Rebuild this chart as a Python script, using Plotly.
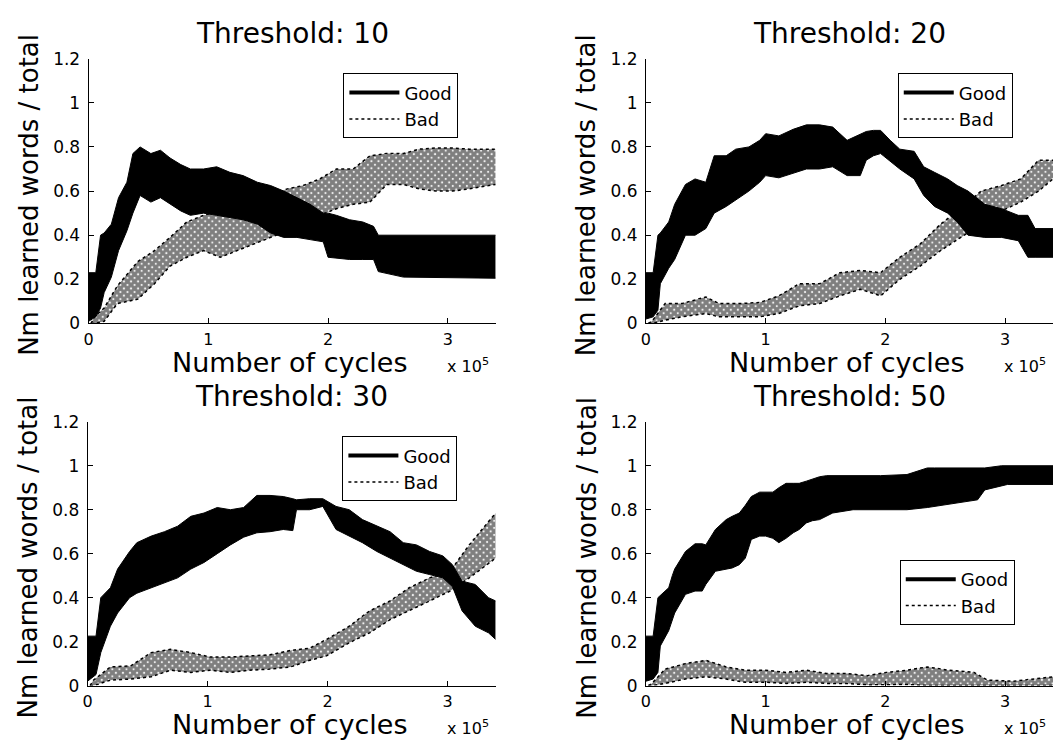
import plotly.graph_objects as go

# ---------------- data (x in units of 10^5 cycles) ----------------
thresholds = ["10", "20", "30", "50"]
x_ticks = [0, 1, 2, 3]
x_tick_labels = ["0", "1", "2", "3"]
y_ticks = [0, 0.2, 0.4, 0.6, 0.8, 1.0, 1.2]
y_tick_labels = ["0", "0.2", "0.4", "0.6", "0.8", "1", "1.2"]

# Threshold 10
t10_good_x = [0, 0.06, 0.10, 0.13, 0.19, 0.25, 0.32, 0.37, 0.43, 0.52, 0.60, 0.68, 0.77, 0.85, 0.96, 1.07,
              1.18, 1.29, 1.41, 1.52, 1.63, 1.74, 1.85, 1.96, 2.00, 2.07, 2.18, 2.29, 2.38, 2.42, 2.63, 3.40]
t10_good_hi = [0.23, 0.23, 0.40, 0.41, 0.45, 0.57, 0.64, 0.77, 0.80, 0.77, 0.785, 0.75, 0.72, 0.70, 0.70, 0.71,
               0.685, 0.67, 0.64, 0.625, 0.60, 0.57, 0.54, 0.50, 0.50, 0.49, 0.47, 0.46, 0.44, 0.40, 0.40, 0.40]
t10_good_lo = [0.01, 0.03, 0.07, 0.14, 0.21, 0.33, 0.42, 0.50, 0.58, 0.55, 0.57, 0.54, 0.51, 0.49, 0.50, 0.49,
               0.48, 0.47, 0.45, 0.41, 0.39, 0.39, 0.38, 0.37, 0.30, 0.295, 0.29, 0.29, 0.29, 0.235, 0.21, 0.205]
t10_bad_x = [0.02, 0.05, 0.13, 0.24, 0.41, 0.55, 0.68, 0.82, 0.96, 1.10, 1.24, 1.38, 1.52, 1.66, 1.79, 1.93,
             2.07, 2.21, 2.35, 2.49, 2.63, 2.76, 2.90, 3.04, 3.18, 3.40]
t10_bad_hi = [0.0, 0.03, 0.07, 0.17, 0.28, 0.33, 0.39, 0.46, 0.49, 0.51, 0.52, 0.54, 0.58, 0.61, 0.625, 0.655,
              0.70, 0.70, 0.76, 0.77, 0.77, 0.79, 0.795, 0.795, 0.79, 0.79]
t10_bad_lo = [0.0, 0.0, 0.01, 0.09, 0.11, 0.18, 0.26, 0.30, 0.33, 0.30, 0.33, 0.36, 0.39, 0.42, 0.46, 0.49,
              0.52, 0.54, 0.55, 0.63, 0.63, 0.61, 0.60, 0.60, 0.61, 0.63]

# Threshold 20
t20_good_x = [0, 0.06, 0.10, 0.12, 0.19, 0.24, 0.33, 0.41, 0.50, 0.57, 0.67, 0.75, 0.86, 0.95, 1.00, 1.11,
              1.23, 1.34, 1.45, 1.56, 1.68, 1.79, 1.84, 1.90, 1.96, 2.04, 2.12, 2.24, 2.32, 2.41, 2.52, 2.60,
              2.69, 2.83, 2.97, 3.11, 3.19, 3.25, 3.40]
t20_good_hi = [0.23, 0.23, 0.40, 0.41, 0.46, 0.54, 0.63, 0.655, 0.64, 0.76, 0.76, 0.79, 0.80, 0.83, 0.86, 0.85,
               0.88, 0.90, 0.90, 0.89, 0.83, 0.86, 0.87, 0.875, 0.875, 0.83, 0.79, 0.78, 0.71, 0.685, 0.655, 0.625,
               0.60, 0.54, 0.52, 0.49, 0.49, 0.43, 0.43]
t20_good_lo = [0.02, 0.03, 0.06, 0.18, 0.25, 0.29, 0.40, 0.40, 0.43, 0.50, 0.53, 0.56, 0.60, 0.64, 0.67, 0.66,
               0.68, 0.70, 0.70, 0.71, 0.67, 0.67, 0.74, 0.76, 0.77, 0.735, 0.70, 0.655, 0.58, 0.53, 0.50, 0.46,
               0.40, 0.39, 0.39, 0.375, 0.30, 0.30, 0.30]
t20_bad_x = [0.02, 0.05, 0.16, 0.30, 0.50, 0.61, 0.78, 0.95, 1.11, 1.28, 1.45, 1.62, 1.79, 1.96, 2.12, 2.29,
             2.46, 2.63, 2.80, 2.97, 3.13, 3.28, 3.40]
t20_bad_hi = [0.0, 0.01, 0.09, 0.09, 0.12, 0.09, 0.09, 0.095, 0.125, 0.18, 0.18, 0.23, 0.24, 0.23, 0.30, 0.36,
              0.45, 0.52, 0.60, 0.625, 0.655, 0.74, 0.74]
t20_bad_lo = [0.0, 0.0, 0.015, 0.03, 0.045, 0.03, 0.03, 0.03, 0.045, 0.08, 0.09, 0.125, 0.155, 0.125, 0.20, 0.26,
              0.33, 0.39, 0.45, 0.51, 0.55, 0.60, 0.655]

# Threshold 30
t30_good_x = [0, 0.07, 0.11, 0.19, 0.25, 0.35, 0.41, 0.53, 0.64, 0.75, 0.86, 0.97, 1.08, 1.19, 1.30, 1.41,
              1.52, 1.63, 1.71, 1.74, 1.85, 1.96, 2.07, 2.18, 2.29, 2.41, 2.52, 2.63, 2.74, 2.85, 2.96, 3.04,
              3.12, 3.23, 3.34, 3.40]
t30_good_hi = [0.225, 0.225, 0.40, 0.445, 0.53, 0.61, 0.65, 0.68, 0.70, 0.725, 0.77, 0.785, 0.81, 0.80, 0.81, 0.865,
               0.865, 0.86, 0.85, 0.845, 0.85, 0.85, 0.815, 0.80, 0.755, 0.725, 0.70, 0.65, 0.64, 0.61, 0.59, 0.55,
               0.475, 0.46, 0.40, 0.385]
t30_good_lo = [0.02, 0.05, 0.15, 0.27, 0.33, 0.40, 0.42, 0.445, 0.465, 0.49, 0.53, 0.56, 0.60, 0.64, 0.675, 0.695,
               0.70, 0.71, 0.705, 0.80, 0.80, 0.815, 0.71, 0.68, 0.65, 0.61, 0.58, 0.55, 0.52, 0.505, 0.49, 0.45,
               0.34, 0.27, 0.24, 0.21]
t30_bad_x = [0.02, 0.05, 0.19, 0.36, 0.53, 0.69, 0.86, 1.02, 1.19, 1.35, 1.52, 1.69, 1.85, 1.99, 2.18, 2.35,
             2.52, 2.68, 2.85, 3.02, 3.18, 3.40]
t30_bad_hi = [0.0, 0.025, 0.085, 0.09, 0.15, 0.165, 0.15, 0.13, 0.13, 0.135, 0.14, 0.16, 0.17, 0.21, 0.27, 0.34,
              0.385, 0.445, 0.49, 0.52, 0.64, 0.785]
t30_bad_lo = [0.0, 0.0, 0.025, 0.03, 0.04, 0.07, 0.06, 0.07, 0.06, 0.07, 0.075, 0.085, 0.115, 0.135, 0.195, 0.24,
              0.30, 0.34, 0.385, 0.43, 0.49, 0.58]

# Threshold 50
t50_good_x = [0, 0.06, 0.10, 0.12, 0.19, 0.22, 0.24, 0.33, 0.41, 0.47, 0.50, 0.58, 0.67, 0.72, 0.78, 0.83,
              0.88, 0.95, 1.00, 1.06, 1.11, 1.17, 1.23, 1.28, 1.34, 1.39, 1.45, 1.51, 1.56, 1.73, 1.96, 2.18,
              2.35, 2.41, 2.57, 2.77, 2.83, 2.97, 3.02, 3.40]
t50_good_hi = [0.225, 0.225, 0.40, 0.41, 0.445, 0.50, 0.53, 0.61, 0.645, 0.645, 0.64, 0.71, 0.755, 0.77, 0.785, 0.82,
               0.86, 0.88, 0.88, 0.88, 0.90, 0.92, 0.92, 0.92, 0.93, 0.94, 0.95, 0.955, 0.955, 0.955, 0.955, 0.96,
               0.99, 0.99, 0.99, 0.99, 0.99, 1.0, 1.0, 1.0]
t50_good_lo = [0.02, 0.03, 0.06, 0.18, 0.25, 0.30, 0.33, 0.415, 0.43, 0.43, 0.46, 0.52, 0.53, 0.535, 0.55, 0.58,
               0.665, 0.68, 0.68, 0.67, 0.65, 0.67, 0.695, 0.71, 0.74, 0.75, 0.755, 0.77, 0.785, 0.80, 0.80, 0.80,
               0.81, 0.815, 0.83, 0.845, 0.89, 0.91, 0.915, 0.915]
t50_bad_x = [0.02, 0.05, 0.16, 0.33, 0.50, 0.67, 0.83, 1.00, 1.17, 1.34, 1.51, 1.68, 1.85, 2.01, 2.18, 2.35,
             2.52, 2.74, 2.85, 3.07, 3.40]
t50_bad_hi = [0.0, 0.01, 0.075, 0.10, 0.115, 0.085, 0.07, 0.07, 0.06, 0.07, 0.055, 0.055, 0.045, 0.06, 0.07, 0.085,
              0.07, 0.06, 0.025, 0.02, 0.04]
t50_bad_lo = [0.0, 0.0, 0.01, 0.03, 0.04, 0.03, 0.015, 0.015, 0.01, 0.015, 0.01, 0.01, 0.003, 0.003, 0.005, 0.0,
              0.0, 0.0, 0.0, 0.0, 0.0]

# ---------------- layout helpers ----------------
W, H = 1058, 754
FONT = "DejaVu Sans, Liberation Sans, Arial, sans-serif"


def fx(p):
    return p / W


def fy(p):
    return 1 - p / H


panels = [
    dict(thr=thresholds[0], gx=t10_good_x, ghi=t10_good_hi, glo=t10_good_lo,
         bx=t10_bad_x, bhi=t10_bad_hi, blo=t10_bad_lo,
         xpx=(84, 493), ypx=(50, 322), leg=(340, 65)),
    dict(thr=thresholds[1], gx=t20_good_x, ghi=t20_good_hi, glo=t20_good_lo,
         bx=t20_bad_x, bhi=t20_bad_hi, blo=t20_bad_lo,
         xpx=(644, 1053), ypx=(50, 322), leg=(897, 65)),
    dict(thr=thresholds[2], gx=t30_good_x, ghi=t30_good_hi, glo=t30_good_lo,
         bx=t30_bad_x, bhi=t30_bad_hi, blo=t30_bad_lo,
         xpx=(83, 493), ypx=(423, 694), leg=(339, 438)),
    dict(thr=thresholds[3], gx=t50_good_x, ghi=t50_good_hi, glo=t50_good_lo,
         bx=t50_bad_x, bhi=t50_bad_hi, blo=t50_bad_lo,
         xpx=(644, 1053), ypx=(423, 694), leg=(899, 565)),
]

fig = go.Figure()
layout = dict(
    width=W, height=H,
    margin=dict(l=0, r=0, t=0, b=0),
    paper_bgcolor="white", plot_bgcolor="white",
    font=dict(family=FONT, color="black"),
    annotations=[],
)

for i, p in enumerate(panels):
    n = "" if i == 0 else str(i + 1)
    xa, ya = "x" + n, "y" + n
    legname = "legend" + n

    # Good band
    fig.add_trace(go.Scatter(x=p["gx"], y=p["glo"], mode="lines", line=dict(color="black", width=1),
                             showlegend=False, hoverinfo="skip", xaxis=xa, yaxis=ya))
    fig.add_trace(go.Scatter(x=p["gx"], y=p["ghi"], mode="lines", line=dict(color="black", width=1),
                             fill="tonexty", fillcolor="black",
                             showlegend=False, hoverinfo="skip", xaxis=xa, yaxis=ya))
    # Bad band
    fig.add_trace(go.Scatter(x=p["bx"], y=p["blo"], mode="lines", line=dict(color="black", width=1.5, dash="dot"),
                             showlegend=False, hoverinfo="skip", xaxis=xa, yaxis=ya))
    fig.add_trace(go.Scatter(x=p["bx"], y=p["bhi"], mode="lines", line=dict(color="black", width=1.5, dash="dot"),
                             fill="tonexty", fillcolor="rgba(0,0,0,0)",
                             fillpattern=dict(shape="x", fgcolor="black", bgcolor="rgba(0,0,0,0)",
                                              size=5, solidity=0.88),
                             showlegend=False, hoverinfo="skip", xaxis=xa, yaxis=ya))
    # legend entries
    fig.add_trace(go.Scatter(x=[None], y=[None], mode="lines", name="Good",
                             line=dict(color="black", width=4), legend=legname, xaxis=xa, yaxis=ya))
    fig.add_trace(go.Scatter(x=[None], y=[None], mode="lines", name="Bad",
                             line=dict(color="black", width=1.5, dash="dot"), legend=legname, xaxis=xa, yaxis=ya))

    x0, x1 = p["xpx"]
    yt, yb = p["ypx"]
    layout["xaxis" + n] = dict(
        domain=[fx(x0), fx(x1)], range=[0, 3.4], anchor=ya,
        tickvals=x_ticks, ticktext=x_tick_labels, ticks="inside", ticklen=5, tickcolor="black",
        showline=True, linecolor="black", linewidth=1, showgrid=False, zeroline=False,
        tickfont=dict(size=16, family=FONT, color="black"), ticklabelstandoff=1,
    )
    layout["yaxis" + n] = dict(
        domain=[fy(yb), fy(yt)], range=[0, 1.2], anchor=xa,
        tickvals=y_ticks, ticktext=y_tick_labels, ticks="inside", ticklen=5, tickcolor="black",
        showline=True, linecolor="black", linewidth=1, showgrid=False, zeroline=False,
        tickfont=dict(size=17, family=FONT, color="black"), ticklabelstandoff=4,
    )
    lx, ly = p["leg"]
    layout[legname] = dict(
        x=fx(lx), y=fy(ly), xanchor="left", yanchor="top",
        bordercolor="black", borderwidth=1, bgcolor="white",
        font=dict(size=18, family=FONT, color="black"),
        itemwidth=50, tracegroupgap=0, traceorder="normal",
    )

    cx = (x0 + x1) / 2
    # Title
    layout["annotations"].append(dict(
        x=fx(cx), y=fy(yt - 26), xref="paper", yref="paper", showarrow=False,
        text="Threshold: " + p["thr"], font=dict(size=28, family=FONT, color="black"),
        xanchor="center", yanchor="middle"))
    # x label
    layout["annotations"].append(dict(
        x=fx(cx - 2), y=fy(yb + 40), xref="paper", yref="paper", showarrow=False,
        text="Number of cycles", font=dict(size=27, family=FONT, color="black"),
        xanchor="center", yanchor="middle"))
    # x10^5
    layout["annotations"].append(dict(
        x=fx(x1 - 28), y=fy(yb + 43), xref="paper", yref="paper", showarrow=False,
        text="x 10<sup>5</sup>", font=dict(size=16, family=FONT, color="black"),
        xanchor="center", yanchor="middle"))
    # y label
    layout["annotations"].append(dict(
        x=fx(x0 - 60), y=fy((yt + yb) / 2 + 4), xref="paper", yref="paper", showarrow=False,
        text="Nm learned words / total", textangle=-90, font=dict(size=26, family=FONT, color="black"),
        xanchor="center", yanchor="middle"))

fig.update_layout(**layout)
fig.write_html("out.html")
